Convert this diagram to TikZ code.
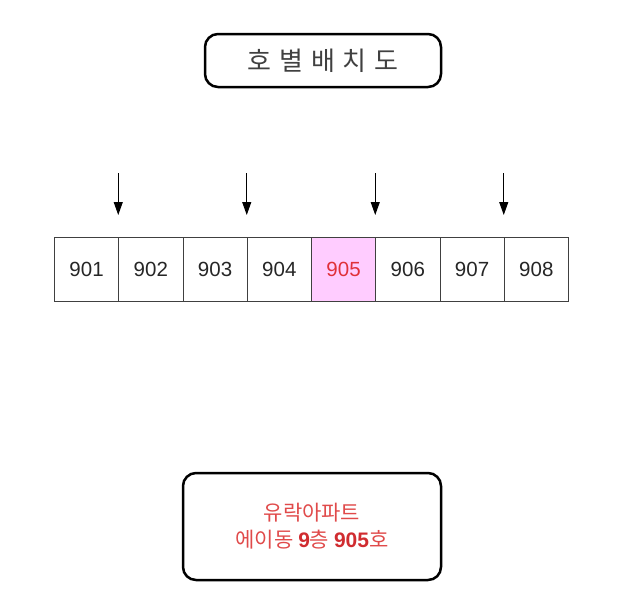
\documentclass[tikz,border=0pt]{standalone}
\usepackage{fontspec}
\setmainfont{Liberation Sans}
\newfontfamily\krfont{Noto Sans CJK KR}
\newfontfamily\digfont{Liberation Sans}
\usetikzlibrary{arrows.meta}
\definecolor{pinkfill}{HTML}{FFCCFF}
\definecolor{redtxt}{HTML}{E0303A}
\definecolor{krred}{HTML}{E04A4A}
\definecolor{digred}{HTML}{D02C30}
\definecolor{titlegray}{HTML}{404040}
\newcommand{\bdig}[1]{{\digfont\bfseries\color{digred}#1}}
\begin{document}
\begin{tikzpicture}[x=1pt,y=-1pt,
  cell/.style={draw=black!75, line width=0.9pt, minimum width=64.25pt, minimum height=64pt,
    inner sep=0pt, anchor=north west, font=\fontsize{20.5}{24}\selectfont, text=black!85},
  bigbox/.style={draw=black, line width=2.5pt, rounded corners=13pt, inner sep=0pt},
  arr/.style={draw=black, line width=1pt, -{Triangle[length=13pt,width=9pt]}}
]
\useasboundingbox (0,0) rectangle (628,600);
% title
\node[bigbox, minimum width=236pt, minimum height=53pt,
  font=\krfont\fontsize{26}{30}\selectfont, text=titlegray] (title) at (323,60.5)
  {호\hspace{8pt}별\hspace{8pt}배\hspace{8pt}치\hspace{8pt}도};
% cells
\foreach \i/\lab in {1/901,2/902,3/903,4/904,6/906,7/907,8/908}{
  \node[cell] (c\i) at ({54+(\i-1)*64.25},237) {\lab};
}
\node[cell, fill=pinkfill, text=redtxt] (c5) at ({54+4*64.25},237) {905};
% arrows
\foreach \k/\x in {1/118.25,2/246.75,3/375.25,4/503.75}{
  \coordinate (s\k) at (\x,173);
  \coordinate (e\k) at (\x,215);
  \draw[arr] (s\k) -- (e\k);
}
% bottom box
\node[bigbox, minimum width=258pt, minimum height=107pt, align=center,
  font=\krfont\fontsize{21}{27}\selectfont, text=krred] (addr) at (312,526.5)
  {유락아파트\\에이동 \bdig{9}층 \bdig{905}호};
\end{tikzpicture}
\end{document}
